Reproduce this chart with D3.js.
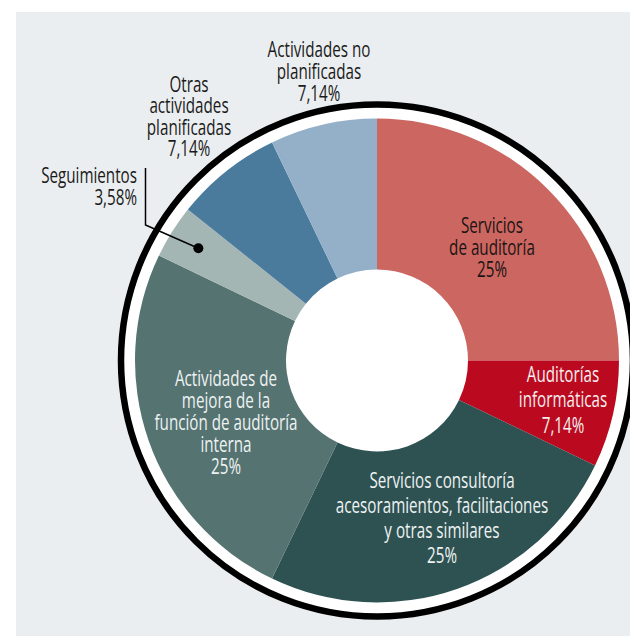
<!DOCTYPE html>
<html>
<head>
<meta charset="utf-8">
<script src="https://cdn.jsdelivr.net/npm/d3@7"></script>
<style>
  html, body { margin: 0; padding: 0; background: #ffffff; }
  svg { display: block; }
  text { font-family: "Open Sans", "Noto Sans", sans-serif; }
</style>
</head>
<body>
<svg id="chart" width="630" height="636"></svg>
<script>
// Distribution of internal-audit activities (percent of total)
const categories = [
  "Servicios de auditoría",
  "Auditorías informáticas",
  "Servicios consultoría acesoramientos, facilitaciones y otras similares",
  "Actividades de mejora de la función de auditoría interna",
  "Seguimientos",
  "Otras actividades planificadas",
  "Actividades no planificadas"
];
const shares = [25, 7.14, 25, 25, 3.58, 7.14, 7.14];
const valueLabels = ["25%", "7,14%", "25%", "25%", "3,58%", "7,14%", "7,14%"];
const labelLines = [
  ["Servicios", "de auditoría"],
  ["Auditorías", "informáticas"],
  ["Servicios consultoría", "acesoramientos, facilitaciones", "y otras similares"],
  ["Actividades de", "mejora de la", "función de auditoría", "interna"],
  ["Seguimientos"],
  ["Otras", "actividades", "planificadas"],
  ["Actividades no", "planificadas"]
];
const sliceColors = ["#cc6660", "#bb0a1f", "#2e5252", "#557371", "#a4b6b4", "#4a7b9d", "#93b0c8"];

// Label placement: first-line baseline, centre x, line step, alignment, text colour
const labelLayout = [
  { x: 492, y: 233, step: 22, anchor: "middle", fill: "#1a1414" },
  { x: 563, y: 382, step: 25.5, anchor: "middle", fill: "#f4eef0" },
  { x: 442, y: 488, step: 25, anchor: "middle", fill: "#eef2f2" },
  { x: 226, y: 386, step: 22, anchor: "middle", fill: "#eef2f2" },
  { x: 137, y: 183, step: 22, anchor: "end", fill: "#1a1a1a" },
  { x: 189, y: 92, step: 21.3, anchor: "middle", fill: "#1a1a1a" },
  { x: 319, y: 57, step: 22, anchor: "middle", fill: "#1a1a1a" }
];
const fontSize = 21;
const squeeze = 0.724;   // horizontal compression for a condensed look

const svg = d3.select("#chart");
const W = 630, H = 636;
const cx = 377, cy = 360.5;
const rInner = 91, rOuter = 242, rRing = 256;

// Background panel
svg.append("rect")
  .attr("x", 16).attr("y", 12)
  .attr("width", W - 16).attr("height", H - 12)
  .attr("fill", "#ebeef0");

const g = svg.append("g").attr("transform", `translate(${cx},${cy})`);

// White backing disc with black outline ring
g.append("circle")
  .attr("r", rRing)
  .attr("fill", "#ffffff")
  .attr("stroke", "#000000")
  .attr("stroke-width", 6.5);

const pie = d3.pie().sort(null).value(d => d)(shares);
const arc = d3.arc().innerRadius(rInner).outerRadius(rOuter);

g.selectAll("path.slice")
  .data(pie)
  .join("path")
  .attr("class", "slice")
  .attr("d", arc)
  .attr("fill", (d, i) => sliceColors[i]);

// Leader line and marker for the small "Seguimientos" slice
const segIdx = categories.indexOf("Seguimientos");
const markerArc = d3.arc().innerRadius(211).outerRadius(211);
const [mx, my] = markerArc.centroid(pie[segIdx]);
const lay = labelLayout[segIdx];
const elbowX = lay.x + 8.5;
svg.append("path")
  .attr("d", `M${elbowX},168 L${elbowX},225 L${cx + mx},${cy + my}`)
  .attr("fill", "none")
  .attr("stroke", "#000000")
  .attr("stroke-width", 1.5);
svg.append("circle")
  .attr("cx", cx + mx).attr("cy", cy + my)
  .attr("r", 5)
  .attr("fill", "#000000");

// Slice labels
categories.forEach((c, i) => {
  const L = labelLayout[i];
  const lines = labelLines[i].concat([valueLabels[i]]);
  const t = svg.append("g")
    .attr("transform", `translate(${L.x},0) scale(${squeeze},1)`)
    .append("text")
    .attr("text-anchor", L.anchor)
    .attr("fill", L.fill)
    .attr("font-size", fontSize);
  lines.forEach((s, k) => {
    t.append("tspan")
      .attr("x", 0)
      .attr("y", L.y + k * L.step)
      .text(s);
  });
});
</script>
</body>
</html>
